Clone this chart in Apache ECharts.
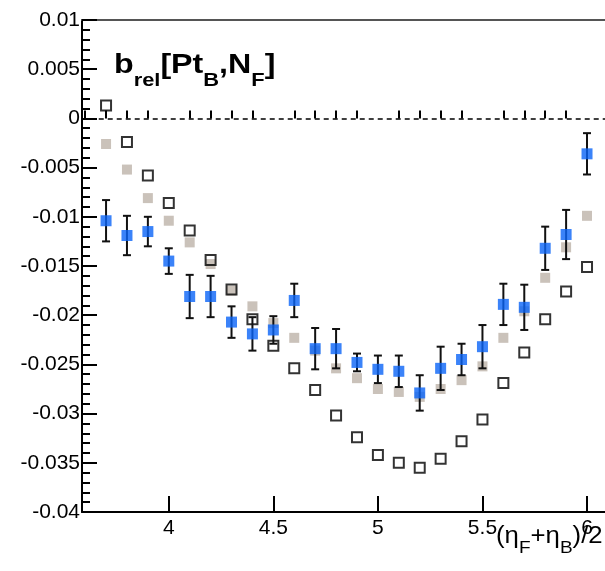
<!DOCTYPE html>
<html>
<head>
<meta charset="utf-8">
<script src="https://cdn.jsdelivr.net/npm/echarts@6/dist/echarts.min.js"></script>
<style>
html,body{margin:0;padding:0;background:#fff;}
#chart{width:605px;height:571px;}
</style>
</head>
<body>
<div id="chart"></div>
<script>
// ---- data ----
const xValues = [3.7,3.8,3.9,4.0,4.1,4.2,4.3,4.4,4.5,4.6,4.7,4.8,4.9,5.0,5.1,5.2,5.3,5.4,5.5,5.6,5.7,5.8,5.9,6.0];
const blackOpen = [0.0013,-0.0024,-0.0058,-0.0086,-0.0114,-0.0144,-0.0174,-0.0204,-0.0231,-0.0254,-0.0276,-0.0302,-0.0324,-0.0342,-0.0350,-0.0355,-0.0346,-0.0328,-0.0306,-0.0269,-0.0238,-0.0204,-0.0176,-0.0151];
const grayFilled = [-0.0026,-0.0052,-0.0081,-0.0104,-0.0126,-0.0148,-0.0175,-0.0191,-0.0208,-0.0223,-0.0236,-0.0254,-0.0264,-0.0275,-0.0278,-0.0283,-0.0275,-0.0266,-0.0252,-0.0223,-0.0196,-0.0162,-0.0131,-0.0099];
const blueFilled = [-0.0104,-0.0119,-0.0115,-0.0145,-0.0181,-0.0181,-0.0207,-0.0219,-0.0215,-0.0185,-0.0234,-0.0234,-0.0248,-0.0255,-0.0257,-0.0279,-0.0254,-0.0245,-0.0232,-0.0189,-0.0192,-0.0132,-0.0118,-0.0036];
const blueErr = [0.0021,0.0020,0.0015,0.0013,0.0022,0.0021,0.0016,0.0017,0.0014,0.0017,0.0021,0.0020,0.0009,0.0014,0.0016,0.0018,0.0022,0.0016,0.0022,0.0021,0.0023,0.0022,0.0025,0.0021];
const xMajorTicks = [4, 4.5, 5, 5.5, 6];
const xMinorTicks = [3.6,3.7,3.8,3.9,4.1,4.2,4.3,4.4,4.6,4.7,4.8,4.9,5.1,5.2,5.3,5.4,5.6,5.7,5.8,5.9,6.1];
const zeroLineFrom = 3.665;

const chart = echarts.init(document.getElementById('chart'), null, {renderer:'canvas'});
const FONT = 'Liberation Sans, Arial, Helvetica, sans-serif';

const option = {
  animation: false,
  grid: {left: 82, top: 20, bottom: 59, right: 0, outerBoundsMode: 'none', containLabel: false, show: false},
  xAxis: [{
    type: 'value', min: 3.585, max: 6.086,
    axisLine: {show: true, onZero: false, lineStyle: {color: '#000', width: 2}},
    axisTick: {show: true, inside: false, length: -16, customValues: xMajorTicks, lineStyle: {color: '#000', width: 2}},
    axisLabel: {show: true, customValues: xMajorTicks, margin: 6, color: '#000', fontSize: 21, fontFamily: FONT,
      formatter: v => String(+v.toFixed(2))},
    splitLine: {show: false}
  }, {
    type: 'value', min: 3.585, max: 6.086, position: 'bottom',
    axisLine: {show: false},
    axisTick: {show: true, inside: false, length: -8, customValues: xMinorTicks, lineStyle: {color: '#000', width: 2}},
    axisLabel: {show: false},
    splitLine: {show: false}
  }, {
    type: 'value', min: 3.585, max: 6.086, position: 'top',
    axisLine: {show: true, onZero: false, lineStyle: {color: '#555', width: 2}},
    axisTick: {show: false},
    axisLabel: {show: false},
    splitLine: {show: false}
  }],
  yAxis: {
    type: 'value', min: -0.04, max: 0.01, interval: 0.005,
    axisLine: {show: true, onZero: false, lineStyle: {color: '#000', width: 2}},
    axisTick: {show: true, inside: true, length: 15, lineStyle: {color: '#000', width: 2}},
    minorTick: {show: true, splitNumber: 5, length: 8, lineStyle: {color: '#000', width: 2}},
    axisLabel: {color: '#000', fontSize: 21, fontFamily: FONT, margin: 2,
      formatter: v => String(parseFloat(v.toFixed(4)))},
    splitLine: {show: false}
  },
  series: [
    {
      type: 'scatter', name: 'gray', symbol: 'rect', symbolSize: 10,
      itemStyle: {color: '#bdb3a9'},
      data: xValues.map((x, i) => [x, grayFilled[i]]),
      z: 2,
      markLine: {
        silent: true, symbol: 'none', label: {show: false},
        lineStyle: {color: '#000', width: 1.5, type: [5, 4]},
        data: [[{coord: [zeroLineFrom, 0]}, {coord: [6.086, 0]}]]
      }
    },
    {
      type: 'scatter', name: 'black', symbol: 'rect', symbolSize: 10,
      itemStyle: {color: 'rgba(0,0,0,0)', borderColor: '#000', borderWidth: 2},
      data: xValues.map((x, i) => [x, blackOpen[i]]),
      z: 3
    },
    {
      type: 'custom', name: 'err',
      encode: {x: 0, y: 1},
      data: xValues.map((x, i) => [x, blueFilled[i], blueErr[i]]),
      z: 4,
      renderItem: function (params, api) {
        const x = api.value(0), y = api.value(1), e = api.value(2);
        const p0 = api.coord([x, y + e]);
        const p1 = api.coord([x, y - e]);
        const w = 4;
        const st = {stroke: '#111', lineWidth: 2};
        return {type: 'group', children: [
          {type: 'line', shape: {x1: p0[0], y1: p0[1], x2: p1[0], y2: p1[1]}, style: st},
          {type: 'line', shape: {x1: p0[0] - w, y1: p0[1], x2: p0[0] + w, y2: p0[1]}, style: st},
          {type: 'line', shape: {x1: p1[0] - w, y1: p1[1], x2: p1[0] + w, y2: p1[1]}, style: st}
        ]};
      }
    },
    {
      type: 'scatter', name: 'blue', symbol: 'rect', symbolSize: 11,
      itemStyle: {color: '#0a64f8'},
      data: xValues.map((x, i) => [x, blueFilled[i]]),
      z: 5
    }
  ],
  graphic: [
    {
      type: 'text', x: 114, y: 51, scaleX: 1.15, z: 10,
      style: {
        text: '{m|b}{s|rel}{m|[Pt}{s|B}{m|,N}{s|F}{m|]}',
        fill: '#000',
        rich: {
          m: {fontSize: 28, fontWeight: 'bold', fontFamily: FONT, verticalAlign: 'top'},
          s: {fontSize: 19, fontWeight: 'bold', fontFamily: FONT, verticalAlign: 'top', padding: [20, 0, 0, 0]}
        }
      }
    },
    {
      type: 'text', x: 496, y: 525, scaleX: 1.12, z: 10,
      style: {
        text: '{m|(η}{s|F}{m|+η}{s|B}{m|)/2}',
        fill: '#000',
        rich: {
          m: {fontSize: 23, fontFamily: FONT, verticalAlign: 'top'},
          s: {fontSize: 17, fontFamily: FONT, verticalAlign: 'top', padding: [15, 0, 0, 0]}
        }
      }
    }
  ]
};
chart.setOption(option);
</script>
</body>
</html>
